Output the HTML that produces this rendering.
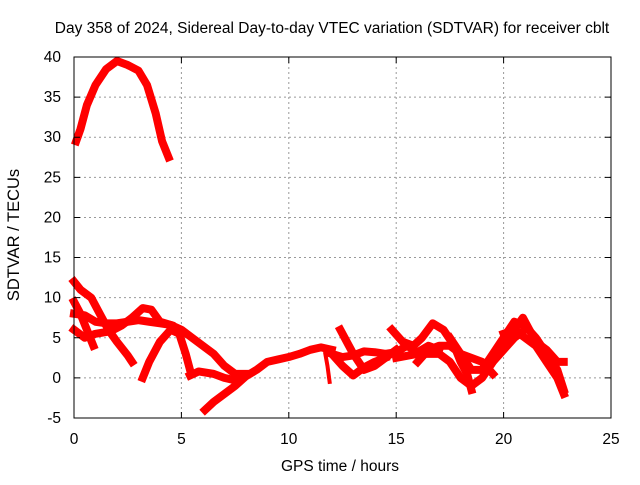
<!DOCTYPE html>
<html><head><meta charset="utf-8"><style>
body{margin:0;background:#fff}
svg text{font-family:"Liberation Sans",sans-serif;font-size:15.5px;fill:#000}
</style></head><body>
<svg id="c" width="640" height="480">
<rect width="640" height="480" fill="#fff"/>
<g id="grid"></g>
<g id="series"></g>
<rect x="74" y="57" width="537" height="361" fill="none" stroke="#000" stroke-width="1"/>
<g id="ticks"></g>
<text x="332" y="33" text-anchor="middle">Day 358 of 2024, Sidereal Day-to-day VTEC variation (SDTVAR) for receiver cblt</text>
<text x="340" y="471" text-anchor="middle">GPS time / hours</text>
<text transform="translate(19,235) rotate(-90)" text-anchor="middle" style="font-size:16.5px">SDTVAR / TECUs</text>
</svg>
<script>
const xTicks=[0,5,10,15,20,25];
const yTicks=[-5,0,5,10,15,20,25,30,35,40];
const s1=[[0.1,29.5],[0.3,31],[0.6,34],[1,36.5],[1.5,38.5],[2,39.5],[2.5,39],[3,38.3],[3.4,36.5],[3.8,33],[4.1,29.5],[4.4,27.5]];
const s2=[[0,12],[0.3,11],[0.8,10],[1.2,8],[1.6,6],[2,4.5],[2.5,2.8],[2.7,2]];
const s3=[[0,9.5],[0.3,8],[0.6,6],[0.9,4]];
const s4=[[0,6],[0.5,5],[1,5.5],[1.7,5.8],[2.2,6.5],[2.7,7.5],[3.2,8.7],[3.6,8.5],[4,7],[4.5,6.6]];
const s5=[[0,8],[0.5,7.8],[1,7],[1.5,6.8],[2,6.8],[2.5,7],[3,7.2],[3.5,7],[4,6.8],[4.5,6.6],[5,6],[5.5,5],[6,4],[6.5,3],[7,1.5],[7.5,0.5],[8,0.5]];
const s6=[[3.2,0],[3.5,2],[4,4.5],[4.5,6],[4.9,5.5],[5.2,3],[5.4,1]];
const s7=[[5.4,0.3],[5.8,0.8],[6.5,0.5],[7,0],[7.5,-0.3]];
const s8=[[6.1,-4],[6.5,-3],[7,-2],[7.5,-1],[8,0.2],[8.5,1],[9,2],[9.5,2.3],[10,2.6],[10.5,3],[11,3.5],[11.5,3.8],[12,3.5]];
const s9=[[11.7,3],[11.8,1.5],[11.9,-0.5]];
const s10=[[12,3],[12.5,2.6],[13,2.8],[13.5,3.3],[14,3.2],[14.5,3],[15,3.2],[15.5,4],[16,3.2],[16.5,4],[17,3.5]];
const s11=[[12.4,6],[12.8,4],[13,3],[13.5,1],[14,1.5],[14.5,2.5],[15,3.5]];
const s12=[[12,3],[12.5,1.5],[13,0.3],[13.5,1.3],[14,2],[14.5,2.5]];
const s13=[[14.8,6],[15.3,4.5],[15.8,4],[16.2,5],[16.7,6.8],[17.2,6],[17.7,4],[18,2],[18.3,0.5],[18.5,-1.5]];
const s14=[[15,2.5],[16,3],[17,3],[17.5,2],[18,0],[18.5,-1],[19,0],[19.5,2],[20,3.5],[20.5,5],[21,6]];
const s15=[[17.5,5],[18,3],[18.5,1],[19,1],[19.5,3],[20,5],[20.5,7],[21,6.5],[21.5,5],[22,3],[22.5,1],[22.8,-1.5]];
const s16=[[19.5,2],[20,4],[20.5,6],[20.9,7.5],[21.2,6],[21.5,4.5],[22,3.5],[22.5,2],[22.8,2]];
const s17=[[20,5.5],[20.5,6],[21,5],[21.5,4],[22,2],[22.5,0],[22.8,-2]];
const s18=[[16,2],[16.5,3.5],[17,4],[17.5,4],[18,3],[18.5,2.5],[19,2],[19.5,0.5]];
const allSeries=[s1,s2,s3,s4,s5,s6,s7,s8,s9,s10,s11,s12,s13,s14,s15,s16,s17,s18];
const X=v=>74+v*(537/25);
const Y=v=>418-(v+5)*(361/45);
const NS='http://www.w3.org/2000/svg';
const grid=document.getElementById('grid'),ticks=document.getElementById('ticks'),ser=document.getElementById('series');
function mk(tag,attrs,parent){const e=document.createElementNS(NS,tag);for(const k in attrs)e.setAttribute(k,attrs[k]);parent.appendChild(e);return e;}
xTicks.forEach(t=>{
  if(t>0&&t<25){const g=mk('line',{x1:X(t),x2:X(t),y1:57,y2:418,stroke:'#999','stroke-dasharray':'2,3'},grid);
  
  }
  const tk=mk('path',{d:`M${X(t)},418v-6M${X(t)},57v6`,stroke:'#000'},ticks);
  
  
  const l=mk('text',{x:X(t),y:444,'text-anchor':'middle'},ticks);l.textContent=t;
  
  
});
yTicks.forEach(t=>{
  if(t>-5&&t<40){const g=mk('line',{x1:74,x2:611,y1:Y(t),y2:Y(t),stroke:'#999','stroke-dasharray':'2,3'},grid);
  
  }
  const tk=mk('path',{d:`M74,${Y(t)}h6M611,${Y(t)}h-6`,stroke:'#000'},ticks);
  
  
  const l=mk('text',{x:61,y:Y(t)+5,'text-anchor':'end'},ticks);l.textContent=t;
  
  
});
allSeries.forEach((s,i)=>{
  const p=mk('polyline',{points:s.map(d=>X(d[0])+','+Y(d[1])).join(' '),fill:'none',stroke:'#f00','stroke-width':i===8?4:8,'stroke-linejoin':'round','stroke-linecap':'square'},ser);
  
  
});
</script>
</body></html>
